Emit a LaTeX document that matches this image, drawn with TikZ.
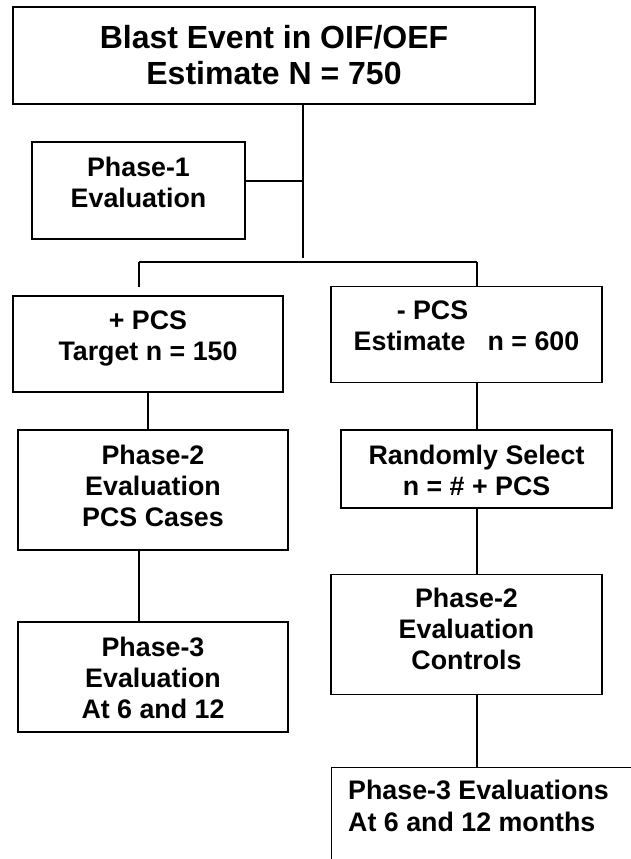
\documentclass[tikz,border=0pt]{standalone}
\usepackage{fontspec}
\setmainfont{Liberation Sans}
\usetikzlibrary{calc}
\begin{document}
\begin{tikzpicture}[x=1pt,y=-1pt,
  box/.style={draw, line width=1.3pt, inner sep=0pt, rectangle},
  txt/.style={align=center, inner sep=0pt, text depth=0pt,
    font=\fontsize{26.8}{31}\selectfont\bfseries},
  link/.style={line width=1.3pt}]
\useasboundingbox (0,0) rectangle (630,859);

% boxes
\node[box, minimum width=522pt, minimum height=97pt, align=center,
  font=\fontsize{32}{36}\selectfont\bfseries]
  (top) at (274,55.5) {Blast Event in OIF/OEF\\Estimate N = 750};
\node[box, minimum width=213pt, minimum height=97pt] (p1)  at (138.5,190.5) {};
\node[box, minimum width=270pt, minimum height=96pt] (pos) at (148,344) {};
\node[box, minimum width=271pt, minimum height=96pt] (neg) at (466.5,334.5) {};
\node[box, minimum width=270pt, minimum height=120pt] (p2a) at (153,490) {};
\node[box, minimum width=271pt, minimum height=78pt] (rnd) at (476.5,469) {};
\node[box, minimum width=271pt, minimum height=120pt] (p2b) at (466.5,634.5) {};
\node[box, minimum width=270pt, minimum height=110pt] (p3a) at (153,677) {};
\node[box, minimum width=400pt, minimum height=200pt, anchor=north west] (p3b) at (331,767) {};

% box texts
\node[txt] (p1t)  at (138.5,182.5) {Phase-1\\Evaluation};
\node[txt] (post) at (148,336) {+ PCS\\Target n = 150};
\node[txt] (negt) at (466.5,326) {- PCS\hspace*{68pt}\\Estimate\hspace{0.55em} n = 600};
\node[txt] (p2at) at (153,486) {Phase-2\\Evaluation\\PCS Cases};
\node[txt] (rndt) at (476.5,470) {Randomly Select\\n = \# + PCS};
\node[txt] (p2bt) at (466.5,629) {Phase-2\\Evaluation\\Controls};
\node[txt] (p3at) at (153,678) {Phase-3\\Evaluation\\At 6 and 12};
\node[txt, align=left, anchor=west, font=\fontsize{26.8}{32}\selectfont\bfseries]
  (p3bt) at (348,806) {Phase-3 Evaluations\\At 6 and 12 months};

% junction points
\coordinate (trunk) at (303,258);
\coordinate (side)  at (303,181);
\coordinate (barl)  at (139,262);
\coordinate (barr)  at (477,262);
\coordinate (dropl) at (139,287);

% connectors
\draw[link] (top.south -| trunk) -- (trunk);
\draw[link] (p1.east |- side) -- (side);
\draw[link] (barl) -- (barr);
\draw[link] (barl) -- (dropl);
\draw[link] (barr) -- (neg.north -| barr);
\draw[link] (pos.south -| 148,0) -- (p2a.north -| 148,0);
\draw[link] (p2a.south -| barl) -- (p3a.north -| barl);
\draw[link] (neg.south -| barr) -- (rnd.north -| barr);
\draw[link] (rnd.south -| barr) -- (p2b.north -| barr);
\draw[link] (p2b.south -| barr) -- (p3b.north -| barr);
\end{tikzpicture}
\end{document}
